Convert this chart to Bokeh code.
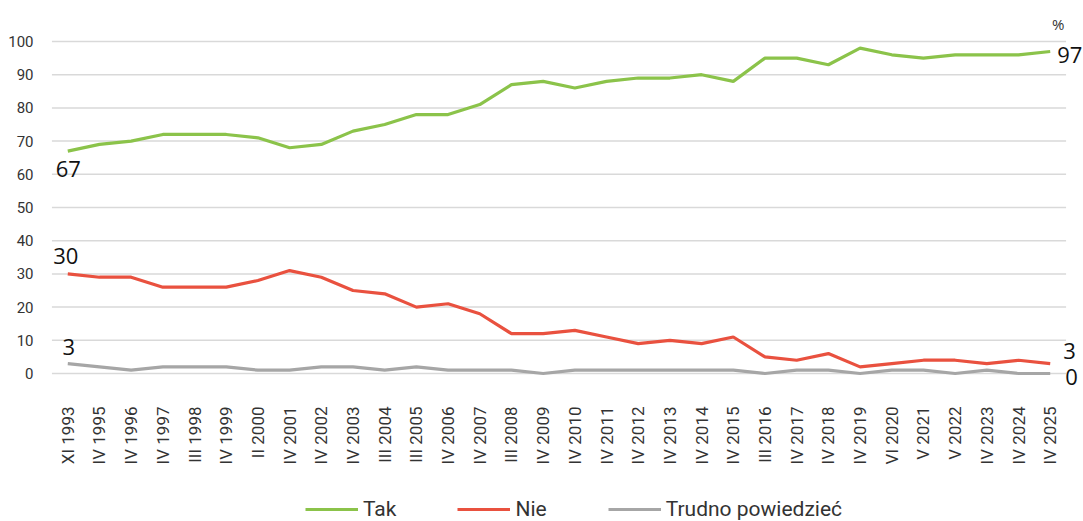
from bokeh.plotting import figure
from bokeh.layouts import column
from bokeh.models import Range1d, FactorRange, Legend, LegendItem, Label, FixedTicker
from bokeh.embed import file_html
from bokeh.resources import INLINE
import math

categories = ["XI 1993", "IV 1995", "IV 1996", "IV 1997", "III 1998", "IV 1999", "II 2000",
              "IV 2001", "IV 2002", "IV 2003", "III 2004", "III 2005", "IV 2006", "IV 2007",
              "III 2008", "IV 2009", "IV 2010", "IV 2011", "IV 2012", "IV 2013", "IV 2014",
              "IV 2015", "III 2016", "IV 2017", "IV 2018", "IV 2019", "VI 2020", "V 2021",
              "V 2022", "IV 2023", "IV 2024", "IV 2025"]
tak = [67, 69, 70, 72, 72, 72, 71, 68, 69, 73, 75, 78, 78, 81, 87, 88, 86, 88, 89, 89, 90,
       88, 95, 95, 93, 98, 96, 95, 96, 96, 96, 97]
nie = [30, 29, 29, 26, 26, 26, 28, 31, 29, 25, 24, 20, 21, 18, 12, 12, 13, 11, 9, 10, 9,
       11, 5, 4, 6, 2, 3, 4, 4, 3, 4, 3]
trudno = [3, 2, 1, 2, 2, 2, 1, 1, 2, 2, 1, 2, 1, 1, 1, 0, 1, 1, 1, 1, 1,
          1, 0, 1, 1, 0, 1, 1, 0, 1, 0, 0]
series_names = ["Tak", "Nie", "Trudno powiedzieć"]
y_ticks = [0, 10, 20, 30, 40, 50, 60, 70, 80, 90, 100]

GREEN = "#8bc34a"
RED = "#e9513f"
GRAY = "#a6a6a6"
COLORS = [GREEN, RED, GRAY]
TXT = "#333333"

n = len(categories)

p = figure(width=1083, height=480,
           x_range=FactorRange(*categories, range_padding=0.55, range_padding_units="absolute"),
           y_range=Range1d(-5.12, 109.34),
           output_backend="svg", toolbar_location=None,
           min_border_left=34, min_border_right=0, min_border_top=10, min_border_bottom=90)
p.outline_line_color = None
p.background_fill_color = "white"
p.xgrid.grid_line_color = None
p.ygrid.grid_line_color = None

# horizontal gridlines spanning the category bands only (synthetic coords 0..n)
p.segment(x0=[0] * len(y_ticks), x1=[n] * len(y_ticks), y0=y_ticks, y1=y_ticks,
          line_color="#d9d9d9", line_width=1.5)

p.yaxis.ticker = FixedTicker(ticks=y_ticks)
p.yaxis.axis_line_color = None
p.yaxis.major_tick_line_color = None
p.yaxis.minor_tick_line_color = None
p.yaxis.major_label_standoff = -5
p.yaxis.major_label_text_font = "Roboto"
p.yaxis.major_label_text_font_size = "15px"
p.yaxis.major_label_text_color = TXT

p.xaxis.axis_line_color = None
p.xaxis.major_tick_line_color = None
p.xaxis.minor_tick_line_color = None
p.xaxis.major_label_orientation = math.pi / 2
p.xaxis.major_label_standoff = 10
p.xaxis.major_label_text_font = "Roboto"
p.xaxis.major_label_text_font_size = "17px"
p.xaxis.major_label_text_color = TXT

p.line(categories, tak, line_color=GREEN, line_width=3.2)
p.line(categories, nie, line_color=RED, line_width=3.2)
p.line(categories, trudno, line_color=GRAY, line_width=3.2)

first_x = categories.index(categories[0]) + 0.5
last_x = categories.index(categories[-1]) + 0.5

def lab(x, y, text, dx, dy, align):
    p.add_layout(Label(x=x, y=y, text=text, x_offset=dx, y_offset=dy, text_align=align,
                       text_baseline="middle", text_font="Open Sans",
                       text_font_size="22px", text_color="#111111"))

lab(first_x, tak[0], str(tak[0]), -12, -17.5, "left")
lab(first_x, nie[0], str(nie[0]), -2, 17.5, "center")
lab(first_x, trudno[0], str(trudno[0]), 1, 16.5, "center")
lab(last_x, tak[-1], str(tak[-1]), 7, -4, "left")
lab(last_x, nie[-1], str(nie[-1]), 13, 12.5, "left")
lab(last_x, trudno[-1], str(trudno[-1]), 15, -3.5, "left")

p.add_layout(Label(x=last_x, y=y_ticks[-1], text="%", x_offset=8, y_offset=18,
                   text_align="center", text_baseline="middle", text_font="Open Sans",
                   text_font_size="15px", text_color=TXT))

# legend strip below the chart
q = figure(width=1083, height=41, output_backend="svg", toolbar_location=None,
           min_border=0, x_range=Range1d(0, 1), y_range=Range1d(0, 1))
q.axis.visible = False
q.grid.grid_line_color = None
q.outline_line_color = None
items = []
for name, col in zip(series_names, COLORS):
    r = q.line([math.nan, math.nan], [math.nan, math.nan], line_color=col, line_width=3.2)
    items.append(LegendItem(label=name, renderers=[r]))
legend = Legend(items=items, orientation="horizontal", location=(271, 0),
                glyph_width=53, glyph_height=18, label_height=18, label_standoff=5,
                spacing=61, padding=0, margin=0, border_line_color=None,
                background_fill_alpha=0,
                label_text_font="Roboto", label_text_font_size="21px",
                label_text_color=TXT)
q.add_layout(legend, "center")

layout = column(p, q, spacing=0)
open("out.html", "w").write(file_html(layout, INLINE))
